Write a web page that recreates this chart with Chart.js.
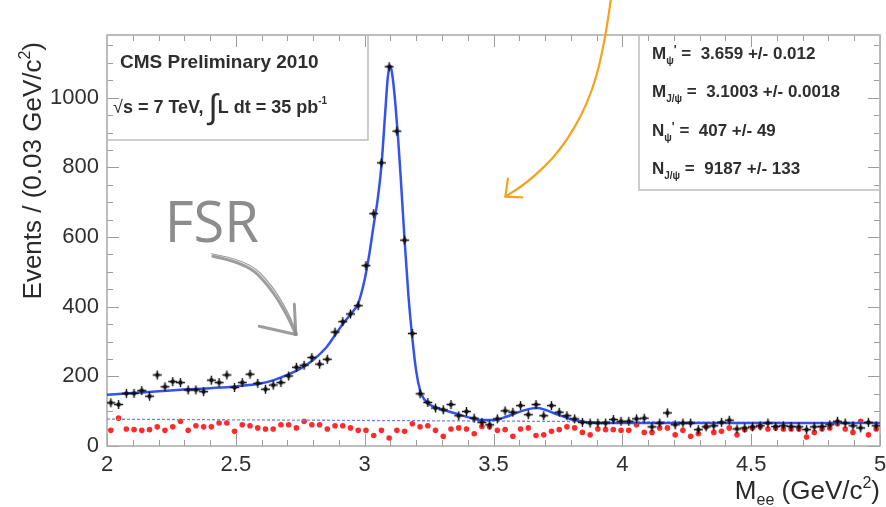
<!DOCTYPE html>
<html>
<head>
<meta charset="utf-8">
<script src="https://cdn.jsdelivr.net/npm/chart.js@4.4.1/dist/chart.umd.min.js"></script>
<style>
body { margin: 0; background: #fff; }
</style>
</head>
<body>
<canvas id="graficoMassa" width="886" height="507"></canvas>
<script>
// centros dos bins (0.03 GeV/c2)
const binCenters = [
    2.015, 2.045, 2.075, 2.105, 2.135, 2.165, 2.195, 2.225, 2.255, 2.285,
    2.315, 2.345, 2.375, 2.405, 2.435, 2.465, 2.495, 2.525, 2.555, 2.585,
    2.615, 2.645, 2.675, 2.705, 2.735, 2.765, 2.795, 2.825, 2.855, 2.885,
    2.915, 2.945, 2.975, 3.005, 3.035, 3.065, 3.095, 3.125, 3.155, 3.185,
    3.215, 3.245, 3.275, 3.305, 3.335, 3.365, 3.395, 3.425, 3.455, 3.485,
    3.515, 3.545, 3.575, 3.605, 3.635, 3.665, 3.695, 3.725, 3.755, 3.785,
    3.815, 3.845, 3.875, 3.905, 3.935, 3.965, 3.995, 4.025, 4.055, 4.085,
    4.115, 4.145, 4.175, 4.205, 4.235, 4.265, 4.295, 4.325, 4.355, 4.385,
    4.415, 4.445, 4.475, 4.505, 4.535, 4.565, 4.595, 4.625, 4.655, 4.685,
    4.715, 4.745, 4.775, 4.805, 4.835, 4.865, 4.895, 4.925, 4.955, 4.985
];

// eventos (pontos pretos)
const eventsData = [
    124, 119, 151, 151, 159, 143, 204, 170, 185, 182,
    161, 161, 156, 189, 182, 204, 168, 182, 206, 180,
    163, 175, 182, 201, 226, 232, 254, 235, 249, 327,
    357, 379, 403, 518, 667, 813, 1089, 904, 591, 323,
    150, 125, 109, 104, 119, 87, 99, 80, 68, 61,
    78, 101, 97, 116, 90, 119, 87, 116, 97, 87,
    78, 68, 66, 66, 66, 76, 71, 71, 78, 80,
    55, 66, 95, 61, 66, 66, 47, 55, 58, 68,
    74, 49, 52, 55, 58, 66, 56, 58, 56, 55,
    47, 55, 56, 61, 71, 66, 58, 52, 68, 58
];

// pontos vermelhos
const eventsRed = [
    45, 80, 49, 47, 45, 47, 55, 45, 55, 71,
    45, 58, 55, 55, 66, 66, 42, 61, 58, 52,
    49, 49, 61, 61, 52, 71, 61, 61, 49, 58,
    58, 52, 45, 45, 30, 45, 23, 45, 42, 64,
    55, 58, 45, 28, 49, 52, 49, 35, 56, 55,
    45, 47, 28, 49, 52, 30, 32, 42, 47, 55,
    52, 39, 32, 49, 47, 47, 45, 45, 61, 39,
    39, 52, 52, 32, 45, 28, 35, 55, 39, 42,
    52, 32, 47, 52, 55, 49, 52, 49, 49, 49,
    26, 39, 49, 52, 64, 49, 39, 71, 32, 49
];

// curva do ajuste
const fitX = [
    2.0, 2.1, 2.2, 2.3, 2.4, 2.5, 2.6, 2.65, 2.7, 2.75,
    2.8, 2.85, 2.885, 2.915, 2.945, 2.975, 3.0, 3.02, 3.035, 3.05,
    3.065, 3.08, 3.09, 3.1, 3.11, 3.12, 3.13, 3.14, 3.155, 3.17,
    3.185, 3.2, 3.215, 3.23, 3.25, 3.3, 3.35, 3.4, 3.45, 3.5,
    3.55, 3.6, 3.65, 3.67, 3.7, 3.75, 3.8, 3.85, 3.9, 4.0,
    4.5, 5.0
];
const fitY = [
    147, 152, 157, 162, 166, 171, 180, 190, 204, 222,
    247, 282, 318, 350, 378, 410, 478, 560, 635, 705,
    805, 960, 1060, 1092, 1050, 975, 880, 770, 590, 430,
    310, 215, 160, 135, 120, 105, 94, 83, 75, 75,
    84, 98, 108, 109, 104, 90, 77, 70, 67, 66,
    66, 66
];

// fundo (linha tracejada)
const bgX = [2, 5];
const bgY = [77, 66];

const xTicks = [2, 2.5, 3, 3.5, 4, 4.5, 5];
const yTicks = [0, 200, 400, 600, 800, 1000];

const statsLines = [
    ['M', 'ψ', "'", ' =  3.659 +/- 0.012'],
    ['M', 'J/ψ', '', ' =  3.1003 +/- 0.0018'],
    ['N', 'ψ', "'", ' =  407 +/- 49'],
    ['N', 'J/ψ', '', ' =  9187 +/- 133']
];

const FONTE = "'Liberation Sans', Arial, sans-serif";
Chart.defaults.font.family = FONTE;

function toPoints(xs, ys) {
    return xs.map((x, i) => ({ x: x, y: ys[i] }));
}

// marcador preto: cruz com ponto
function marcadorPreto() {
    const c = document.createElement('canvas');
    c.width = 11;
    c.height = 11;
    const g = c.getContext('2d');
    g.strokeStyle = '#111';
    g.lineWidth = 1.4;
    g.beginPath();
    g.moveTo(1, 5.5); g.lineTo(10, 5.5);
    g.moveTo(5.5, 1); g.lineTo(5.5, 10);
    g.stroke();
    g.fillStyle = '#111';
    g.beginPath();
    g.arc(5.5, 5.5, 2.2, 0, 2 * Math.PI);
    g.fill();
    return c;
}

// desenha texto com partes (sub/sobrescrito)
function larguraPartes(ctx, partes) {
    let w = 0;
    partes.forEach(p => {
        ctx.font = (p.b ? 'bold ' : '') + p.s + 'px ' + FONTE;
        w += ctx.measureText(p.t).width;
    });
    return w;
}
function desenharPartes(ctx, partes, x, y) {
    partes.forEach(p => {
        ctx.font = (p.b ? 'bold ' : '') + p.s + 'px ' + FONTE;
        ctx.fillText(p.t, x, y + (p.dy || 0));
        x += ctx.measureText(p.t).width;
    });
    return x;
}

function caminhoSuave(ctx, pts) {
    ctx.beginPath();
    ctx.moveTo(pts[0][0], pts[0][1]);
    for (let i = 1; i < pts.length - 1; i++) {
        const mx = (pts[i][0] + pts[i + 1][0]) / 2;
        const my = (pts[i][1] + pts[i + 1][1]) / 2;
        ctx.quadraticCurveTo(pts[i][0], pts[i][1], mx, my);
    }
    const u = pts[pts.length - 1];
    ctx.lineTo(u[0], u[1]);
}

const molduraPlugin = {
    id: 'moldura',
    beforeDatasetsDraw(chart) {
        const ctx = chart.ctx;
        const ca = chart.chartArea;
        const sx = chart.scales.x;
        const sy = chart.scales.y;
        ctx.save();
        ctx.strokeStyle = '#9c9c9c';
        ctx.lineWidth = 1;
        ctx.beginPath();
        for (let k = 0; k <= 30; k++) {
            const px = Math.round(sx.getPixelForValue(2 + k * 0.1)) + 0.5;
            const len = (k % 5 === 0) ? 12 : 6;
            ctx.moveTo(px, ca.bottom); ctx.lineTo(px, ca.bottom - len);
            ctx.moveTo(px, ca.top); ctx.lineTo(px, ca.top + len);
        }
        for (let v = 0; v <= sy.max; v += 50) {
            const py = Math.round(sy.getPixelForValue(v)) + 0.5;
            const len = (v % 200 === 0) ? 12 : 6;
            ctx.moveTo(ca.left, py); ctx.lineTo(ca.left + len, py);
            ctx.moveTo(ca.right, py); ctx.lineTo(ca.right - len, py);
        }
        ctx.stroke();
        ctx.strokeStyle = '#a8a8a8';
        ctx.lineWidth = 1.5;
        ctx.strokeRect(ca.left, ca.top, ca.right - ca.left, ca.bottom - ca.top);
        ctx.restore();
    },
    afterDraw(chart) {
        const ctx = chart.ctx;
        const ca = chart.chartArea;
        const sx = chart.scales.x;
        const sy = chart.scales.y;
        const P = (x, y) => [sx.getPixelForValue(x), sy.getPixelForValue(y)];
        ctx.save();
        ctx.fillStyle = '#2a2a2a';
        ctx.textBaseline = 'alphabetic';

        // titulo eixo y
        const tituloY = [
            { t: 'Events / (0.03 GeV/c', s: 26 },
            { t: '2', s: 16, dy: -11 },
            { t: ')', s: 26 }
        ];
        ctx.save();
        ctx.translate(41, ca.top + 7);
        ctx.rotate(-Math.PI / 2);
        desenharPartes(ctx, tituloY, -larguraPartes(ctx, tituloY), 0);
        ctx.restore();

        // titulo eixo x
        const tituloX = [
            { t: 'M', s: 26 },
            { t: 'ee', s: 16, dy: 6 },
            { t: ' (GeV/c', s: 26 },
            { t: '2', s: 16, dy: -11 },
            { t: ')', s: 26 }
        ];
        desenharPartes(ctx, tituloX, ca.right - larguraPartes(ctx, tituloX), 499);

        // caixa CMS
        ctx.strokeStyle = '#bdbdbd';
        ctx.lineWidth = 1.5;
        ctx.strokeRect(ca.left, ca.top, 261, 105);
        ctx.fillStyle = '#2e2e2e';
        desenharPartes(ctx, [{ t: 'CMS Preliminary 2010', s: 19, b: true }], ca.left + 13, ca.top + 33);
        desenharPartes(ctx, [
            { t: '√', s: 18 },
            { t: 's = 7 TeV, ', s: 18, b: true },
            { t: '∫', s: 34, dy: 5 },
            { t: 'L dt = 35 pb', s: 18, b: true },
            { t: '-1', s: 10, b: true, dy: -9 }
        ], ca.left + 6, ca.top + 78);

        // caixa de estatisticas
        ctx.strokeRect(ca.right - 241, ca.top, 241, 155);
        statsLines.forEach((l, i) => {
            desenharPartes(ctx, [
                { t: l[0], s: 17, b: true },
                { t: l[1], s: 10, b: true, dy: 5 },
                { t: l[2], s: 12, b: true, dy: -5 },
                { t: l[3], s: 17, b: true }
            ], ca.right - 228, ca.top + 24 + i * 38.3);
        });

        // FSR
        ctx.fillStyle = '#8c8c8c';
        ctx.font = "56px 'Open Sans', " + FONTE;
        const pf = P(2.224, 586);
        ctx.fillText('FSR', pf[0], pf[1]);
        ctx.strokeStyle = 'rgba(140,140,140,0.85)';
        ctx.lineCap = 'round';
        ctx.lineJoin = 'round';
        ctx.lineWidth = 3;
        caminhoSuave(ctx, [[2.411, 545], [2.540, 526], [2.630, 459], [2.695, 382], [2.733, 320]].map(p => P(p[0], p[1])));
        ctx.stroke();
        ctx.lineWidth = 1.2;
        caminhoSuave(ctx, [[2.405, 552], [2.545, 534], [2.640, 462], [2.703, 384], [2.738, 322]].map(p => P(p[0], p[1])));
        ctx.stroke();
        ctx.lineWidth = 3;
        caminhoSuave(ctx, [[2.727, 407], [2.733, 320]].map(p => P(p[0], p[1])));
        ctx.stroke();
        caminhoSuave(ctx, [[2.591, 344], [2.733, 320]].map(p => P(p[0], p[1])));
        ctx.stroke();

        // seta laranja
        ctx.strokeStyle = '#f5a21c';
        ctx.lineWidth = 2.2;
        caminhoSuave(ctx, [[3.956, 1285], [3.929, 1139], [3.867, 981], [3.759, 846], [3.635, 758], [3.546, 716]].map(p => P(p[0], p[1])));
        ctx.stroke();
        ctx.beginPath();
        const a1 = P(3.556, 768), a2 = P(3.546, 716), a3 = P(3.612, 714);
        ctx.moveTo(a1[0], a1[1]); ctx.lineTo(a2[0], a2[1]); ctx.lineTo(a3[0], a3[1]);
        ctx.stroke();
        ctx.restore();
    }
};

const data = {
    datasets: [{
        label: 'dados',
        data: toPoints(binCenters, eventsData),
        pointStyle: marcadorPreto(),
        pointRadius: 5,
        showLine: false,
        order: 0
    }, {
        label: 'ajuste',
        data: toPoints(fitX, fitY),
        showLine: true,
        borderColor: '#3352ee',
        borderWidth: 2.5,
        pointRadius: 0,
        cubicInterpolationMode: 'monotone',
        order: 1
    }, {
        label: 'fundo',
        data: toPoints(bgX, bgY),
        showLine: true,
        borderColor: '#6f83ff',
        borderWidth: 1.3,
        borderDash: [3, 2],
        pointRadius: 0,
        order: 2
    }, {
        label: 'vermelho',
        data: toPoints(binCenters, eventsRed),
        showLine: false,
        pointStyle: 'circle',
        pointRadius: 2.8,
        backgroundColor: '#ff2a2a',
        borderWidth: 0,
        order: 3
    }]
};

const config = {
    type: 'scatter',
    data: data,
    options: {
        responsive: false,
        animation: false,
        devicePixelRatio: 1,
        layout: {
            padding: { top: 35, right: 3, left: 0, bottom: 0 }
        },
        plugins: {
            legend: { display: false },
            tooltip: { enabled: false }
        },
        scales: {
            x: {
                type: 'linear',
                min: 2,
                max: 5,
                grid: { display: false, drawTicks: false },
                border: { display: false },
                afterBuildTicks: (scale) => { scale.ticks = xTicks.map(v => ({ value: v })); },
                afterFit: (scale) => {
                    scale.height = 61;
                    scale.paddingLeft = 0;
                    scale.paddingRight = 0;
                },
                ticks: {
                    padding: 6,
                    color: '#2f2f2f',
                    font: { size: 22 },
                    maxRotation: 0,
                    callback: (v) => String(v)
                }
            },
            y: {
                type: 'linear',
                min: 0,
                max: 1180,
                grid: { display: false, drawTicks: false },
                border: { display: false },
                afterBuildTicks: (scale) => { scale.ticks = yTicks.map(v => ({ value: v })); },
                afterFit: (scale) => {
                    scale.width = 107;
                    scale.paddingTop = 0;
                    scale.paddingBottom = 0;
                },
                ticks: {
                    padding: 8,
                    color: '#2f2f2f',
                    font: { size: 22 },
                    callback: (v) => String(v)
                }
            }
        }
    },
    plugins: [molduraPlugin]
};

const graficoMassa = new Chart(
    document.getElementById('graficoMassa'),
    config
);
</script>
</body>
</html>
